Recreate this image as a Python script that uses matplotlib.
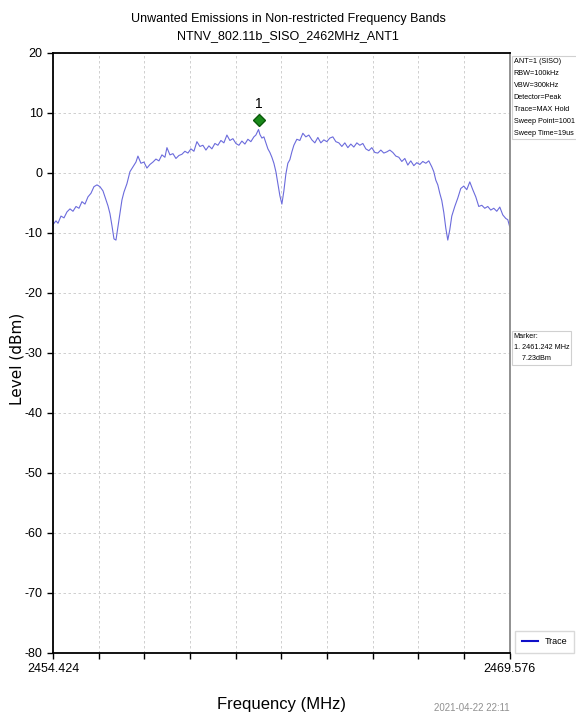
import numpy as np
import matplotlib
matplotlib.use("Agg")
import matplotlib.pyplot as plt

plt.rcParams['font.family'] = ['Liberation Sans', 'DejaVu Sans']
plt.rcParams['axes.unicode_minus'] = False

# trace (MHz, dBm)
freq = [2454.424, 2454.523, 2454.590, 2454.689, 2454.789, 2454.888, 2454.988, 2455.087,
        2455.187, 2455.286, 2455.385, 2455.485, 2455.584, 2455.684, 2455.783, 2455.883,
        2455.982, 2456.082, 2456.181, 2456.248, 2456.314, 2456.380, 2456.447, 2456.513,
        2456.579, 2456.645, 2456.712, 2456.778, 2456.877, 2456.977, 2457.076, 2457.176,
        2457.242, 2457.341, 2457.441, 2457.540, 2457.640, 2457.739, 2457.839, 2457.938,
        2458.038, 2458.137, 2458.204, 2458.303, 2458.403, 2458.502, 2458.602, 2458.701,
        2458.800, 2458.900, 2458.999, 2459.099, 2459.198, 2459.298, 2459.397, 2459.497,
        2459.596, 2459.695, 2459.795, 2459.894, 2459.994, 2460.093, 2460.193, 2460.292,
        2460.392, 2460.491, 2460.591, 2460.690, 2460.790, 2460.889, 2460.988, 2461.088,
        2461.154, 2461.242, 2461.288, 2461.354, 2461.420, 2461.486, 2461.553, 2461.619,
        2461.685, 2461.752, 2461.818, 2461.884, 2461.950, 2462.017, 2462.083, 2462.149,
        2462.215, 2462.282, 2462.348, 2462.414, 2462.513, 2462.613, 2462.712, 2462.812,
        2462.911, 2463.011, 2463.110, 2463.210, 2463.309, 2463.409, 2463.508, 2463.608,
        2463.707, 2463.807, 2463.906, 2464.006, 2464.105, 2464.205, 2464.304, 2464.403,
        2464.503, 2464.602, 2464.702, 2464.801, 2464.901, 2465.000, 2465.100, 2465.199,
        2465.299, 2465.398, 2465.498, 2465.597, 2465.697, 2465.796, 2465.896, 2465.995,
        2466.095, 2466.194, 2466.293, 2466.393, 2466.492, 2466.592, 2466.691, 2466.791,
        2466.890, 2466.990, 2467.056, 2467.122, 2467.189, 2467.255, 2467.321, 2467.388,
        2467.454, 2467.520, 2467.586, 2467.653, 2467.752, 2467.852, 2467.951, 2468.051,
        2468.150, 2468.250, 2468.349, 2468.449, 2468.548, 2468.648, 2468.747, 2468.847,
        2468.946, 2469.046, 2469.145, 2469.245, 2469.344, 2469.444, 2469.510, 2469.576]
level = [-8.6, -8.0, -8.4, -7.2, -7.5, -6.5, -6.0, -6.4,
         -5.6, -5.9, -4.8, -5.2, -4.0, -3.4, -2.3, -2.0,
         -2.3, -3.0, -4.5, -5.5, -6.8, -8.8, -11.0, -11.2,
         -9.0, -6.8, -4.5, -3.2, -1.8, 0.2, 1.0, 1.8,
         2.8, 1.6, 1.8, 0.8, 1.4, 1.8, 2.3, 2.0,
         3.0, 2.6, 4.2, 3.0, 3.2, 2.4, 2.9, 3.1,
         3.6, 3.3, 4.0, 3.6, 5.2, 4.4, 4.6, 3.8,
         4.5, 4.0, 4.9, 4.6, 5.4, 5.0, 6.3, 5.4,
         5.7, 4.9, 4.6, 5.3, 4.8, 5.6, 5.2, 6.0,
         6.3, 7.23, 6.4, 5.8, 6.0, 5.0, 4.0, 3.4,
         2.6, 1.6, 0.2, -1.8, -3.8, -5.2, -3.0, -0.2,
         1.6, 2.2, 3.5, 4.6, 5.6, 5.4, 6.6, 6.0,
         6.3, 5.5, 5.0, 5.9, 5.0, 5.5, 5.2, 5.8,
         6.0, 5.2, 5.0, 4.4, 5.0, 4.2, 4.8, 4.3,
         5.0, 4.6, 4.9, 4.0, 3.7, 4.2, 3.4, 3.3,
         3.8, 3.3, 3.5, 3.8, 3.4, 2.8, 2.6, 1.9,
         2.4, 1.3, 2.0, 1.2, 1.7, 1.4, 1.9, 1.6,
         2.0, 1.0, 0.2, -1.2, -2.0, -3.4, -4.6, -6.6,
         -9.2, -11.2, -9.5, -7.2, -5.6, -4.2, -2.6, -2.2,
         -2.8, -1.5, -2.8, -4.0, -5.6, -5.4, -5.9, -5.6,
         -6.2, -5.9, -6.4, -5.7, -7.0, -7.6, -7.8, -9.0]

f_start = 2454.424
f_stop = 2469.576
marker_freq = 2461.242
marker_level = 7.23
info_lines = ["ANT=1 (SISO)", "RBW=100kHz", "VBW=300kHz", "Detector=Peak",
              "Trace=MAX Hold", "Sweep Point=1001", "Sweep Time=19us"]

fig = plt.figure(figsize=(5.76, 7.17), dpi=100)
ax = fig.add_axes([0.092, 0.0893, 0.793, 0.837])

ax.plot(freq, level, color='#6b6bdc', lw=0.8)
ax.plot(marker_freq, marker_level + 1.5, marker='D', color='#1a8a1a', ms=6, mec='#0a5a0a')
ax.text(marker_freq, marker_level + 3.0, "1", ha='center', va='bottom', fontsize=10)

ax.set_xlim(f_start, f_stop)
ax.set_ylim(-80, 20)
ax.set_yticks(np.arange(-80, 21, 10))
xt = np.linspace(f_start, f_stop, 11)
ax.set_xticks(xt)
ax.set_xticklabels(["%.3f" % f_start] + [""] * 9 + ["%.3f" % f_stop])
ax.grid(True, color='#c8c8c8', ls='--', lw=0.6, dashes=(3, 3))
ax.tick_params(labelsize=9, length=4, width=1)
for s in ['left', 'bottom', 'top']:
    ax.spines[s].set_linewidth(1.3)
ax.spines['right'].set_color('#888888')
ax.spines['right'].set_linewidth(1.3)

fig.text(0.03, 0.5, "Level (dBm)", rotation=90, ha='center', va='center', fontsize=11,
         family=['DejaVu Sans'])
fig.text(0.488, 0.017, "Frequency (MHz)", ha='center', va='center', fontsize=12)

fig.text(0.5, 0.974, "Unwanted Emissions in Non-restricted Frequency Bands",
         ha='center', va='center', fontsize=9)
fig.text(0.5, 0.949, "NTNV_802.11b_SISO_2462MHz_ANT1", ha='center', va='center', fontsize=9)
fig.text(0.885, 0.013, "2021-04-22 22:11", ha='right', va='center', fontsize=7, color='#909090')

fig.text(0.892, 0.919, "\n".join(info_lines), ha='left', va='top', fontsize=5.2, linespacing=2.0,
         bbox=dict(boxstyle='square,pad=0.3', fc='white', ec='#d0d0d0', lw=0.8))
fig.text(0.892, 0.535, "Marker:\n1. %.3f MHz\n    %.2fdBm" % (marker_freq, marker_level),
         ha='left', va='top', fontsize=5.2, linespacing=1.8,
         bbox=dict(boxstyle='square,pad=0.3', fc='white', ec='#d0d0d0', lw=0.8))

leg = fig.legend([plt.Line2D([], [], color='#1010c8', lw=1.5)], ["Trace"],
                 loc='center left', bbox_to_anchor=(0.887, 0.105), fontsize=6.5,
                 handlelength=1.8, frameon=True, fancybox=False, borderpad=0.7)
leg.get_frame().set_edgecolor('#d0d0d0')

fig.savefig("out.png", dpi=100)
